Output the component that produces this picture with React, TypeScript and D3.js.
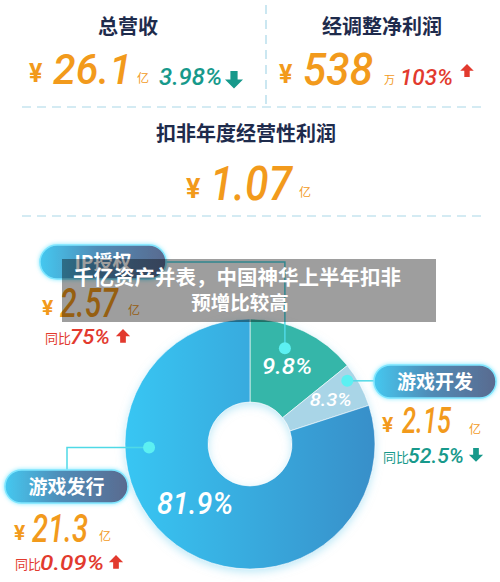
import React from "react";
import * as d3 from "d3";

// ---- data ----
const metricTitles = ["总营收", "经调整净利润", "扣非年度经营性利润"];
const metricValues = ["26.1", "538", "1.07"];
const metricUnits = ["亿", "万", "亿"];
const metricChanges = ["3.98%", "103%", ""];
const metricDirections = ["down", "up", ""];

const segmentNames = ["IP授权", "游戏开发", "游戏发行"];
const segmentRevenue = ["2.57", "2.15", "21.3"];
const segmentUnits = ["亿", "亿", "亿"];
const segmentYoY = ["75%", "52.5%", "0.09%"];
const segmentDirections = ["up", "down", "up"];

const sliceLabels = ["9.8%", "8.3%", "81.9%"];
const sliceShares = [14.2, 5.8, 80.0];

const headlineLines = ["千亿资产并表，中国神华上半年扣非", "预增比较高"];

// ---- style ----
const NAVY = "#1e2b4c";
const ORANGE = "#f29a1c";
const RED = "#e23a2e";
const TEAL = "#17998b";
const NUM_FONT = "Roboto, 'Open Sans', sans-serif";
const CJK = "'Noto Sans CJK SC', sans-serif";
const sliceColors = ["#35b6a9", "#a9d5e7", "url(#bigGrad)"];

function Num({ x, y, size, width, color, children, anchor }: any) {
  return (
    <text
      x={x}
      y={y}
      fontFamily={NUM_FONT}
      fontStyle="italic"
      fontWeight={500}
      fontSize={size}
      fill={color}
      textLength={width}
      lengthAdjust="spacingAndGlyphs"
      textAnchor={anchor || "start"}
    >
      {children}
    </text>
  );
}

function Arrow({ cx, y, dir, color, s = 1 }: { cx: number; y: number; dir: string; color: string; s?: number }) {
  const w = 7.5 * s, h = 7.5 * s, sw = 3 * s, sh = 7 * s;
  const d =
    dir === "up"
      ? `M${cx - w},${y + h} L${cx},${y} L${cx + w},${y + h} L${cx + sw},${y + h} L${cx + sw},${y + h + sh} L${cx - sw},${y + h + sh} L${cx - sw},${y + h} Z`
      : `M${cx - sw},${y} L${cx + sw},${y} L${cx + sw},${y + sh} L${cx + w},${y + sh} L${cx},${y + sh + h} L${cx - w},${y + sh} L${cx - sw},${y + sh} Z`;
  return <path d={d} fill={color} />;
}

function Pill({ x, y, w, h, text }: { x: number; y: number; w: number; h: number; text: string }) {
  return (
    <g>
      <rect x={x} y={y} width={w} height={h} rx={h / 2} fill="url(#pillGrad)" stroke="#7fe6ff" strokeWidth={1.5} filter="url(#glow)" />
      <text x={x + w / 2} y={y + h / 2 + 7} textAnchor="middle" fontFamily={CJK} fontWeight={700} fontSize={19} fill="#ffffff">
        {text}
      </text>
    </g>
  );
}

export default function App() {
  const cx = 250, cy = 444, rOuter = 125, rInner = 42;
  const pie = d3.pie<number>().sort(null).value((d) => d)(sliceShares);
  const arc = d3.arc<d3.PieArcDatum<number>>().innerRadius(rInner).outerRadius(rOuter);
  const labelR = [86, 94, 80];
  const labelSize = [22, 18, 31];
  const labelWidth = [50, 42, 76];
  const labelNudge = [[0, 0], [-2, 0], [-8, -6]];
  const polar = (deg: number, r: number) => [cx + r * Math.sin((deg * Math.PI) / 180), cy - r * Math.cos((deg * Math.PI) / 180)];

  const dot0 = polar(20, 102);
  const dot1 = polar(57, 116);
  const dot2 = polar(268, 101);

  const segLayout = [
    { pill: [40, 245, 126, 34], yen: [42, 315], val: [60, 317, 40, 58], unit: [128, 315], yoy: [45, 343], yoyW: 40, arrowX: 123 },
    { pill: [374, 365, 122, 33], yen: [382, 432], val: [402, 433, 37, 49], unit: [469, 434], yoy: [383, 462], yoyW: 56, arrowX: 476 },
    { pill: [5, 470, 123, 33], yen: [14, 540], val: [32, 542, 38, 56], unit: [99, 541], yoy: [15, 569], yoyW: 64, arrowX: 116 },
  ];

  return (
    <div style={{ position: "fixed", left: 0, top: 0 }}>
      <svg width={500} height={582} style={{ display: "block", background: "#ffffff" }}>
        <defs>
          <linearGradient id="bigGrad" x1="0" x2="1" y1="0" y2="0" gradientUnits="objectBoundingBox">
            <stop offset="0" stopColor="#38c6f3" />
            <stop offset="1" stopColor="#388fc9" />
          </linearGradient>
          <linearGradient id="pillGrad" x1="0" x2="1" y1="0" y2="0">
            <stop offset="0" stopColor="#44c8f0" />
            <stop offset="0.45" stopColor="#4f8db8" />
            <stop offset="1" stopColor="#5a6a8f" />
          </linearGradient>
          <filter id="glow" x="-20%" y="-40%" width="140%" height="180%">
            <feDropShadow dx="0" dy="0" stdDeviation="2" floodColor="#5fe3ff" floodOpacity="0.8" />
          </filter>
          <filter id="pieShadow" x="-20%" y="-20%" width="140%" height="140%">
            <feDropShadow dx="0" dy="3" stdDeviation="4" floodColor="#7fd3f0" floodOpacity="0.5" />
          </filter>
        </defs>

        {/* dashed dividers */}
        <line x1={22} x2={482} y1={107} y2={107} stroke="#a9d7e8" strokeWidth={1.2} strokeDasharray="9 6" />
        <line x1={266} x2={266} y1={5} y2={107} stroke="#a9d7e8" strokeWidth={1.2} strokeDasharray="9 6" />
        <line x1={22} x2={482} y1={216} y2={216} stroke="#a9d7e8" strokeWidth={1.2} strokeDasharray="9 6" />

        {/* top metrics */}
        <text x={128} y={34} textAnchor="middle" fontFamily={CJK} fontWeight={700} fontSize={20} fill={NAVY}>{metricTitles[0]}</text>
        <text x={29} y={82} fontFamily={NUM_FONT} fontSize={25} fontWeight={700} fill={ORANGE}>¥</text>
        <Num x={53} y={84} size={43} width={79} color={ORANGE}>{metricValues[0]}</Num>
        <text x={137} y={83} fontFamily={CJK} fontSize={12} fill={ORANGE}>{metricUnits[0]}</text>
        <Num x={159} y={85} size={23} width={63} color={TEAL}>{metricChanges[0]}</Num>
        <Arrow cx={234} y={71} dir={metricDirections[0]} color={TEAL} s={1.2} />

        <text x={382} y={34} textAnchor="middle" fontFamily={CJK} fontWeight={700} fontSize={20} fill={NAVY}>{metricTitles[1]}</text>
        <text x={279} y={83} fontFamily={NUM_FONT} fontSize={25} fontWeight={700} fill={ORANGE}>¥</text>
        <Num x={303} y={85} size={44} width={70} color={ORANGE}>{metricValues[1]}</Num>
        <text x={384} y={84} fontFamily={CJK} fontSize={11} fill={ORANGE}>{metricUnits[1]}</text>
        <Num x={400} y={85} size={22} width={53} color={RED}>{metricChanges[1]}</Num>
        <Arrow cx={467} y={64} dir={metricDirections[1]} color={RED} s={0.9} />

        <text x={246} y={141} textAnchor="middle" fontFamily={CJK} fontWeight={700} fontSize={20} fill={NAVY}>{metricTitles[2]}</text>
        <text x={186} y={198} fontFamily={NUM_FONT} fontSize={27} fontWeight={700} fill={ORANGE}>¥</text>
        <Num x={210} y={200} size={48} width={82} color={ORANGE}>{metricValues[2]}</Num>
        <text x={299} y={197} fontFamily={CJK} fontSize={12} fill={ORANGE}>{metricUnits[2]}</text>

        {/* donut */}
        <g transform={`translate(${cx},${cy})`} filter="url(#pieShadow)">
          {pie.map((p, i) => (
            <path key={i} d={arc(p) || ""} fill={sliceColors[i]} stroke="#ffffff" strokeWidth={0.6} />
          ))}
        </g>
        {pie.map((p, i) => {
          const mid = (p.startAngle + p.endAngle) / 2;
          const x = cx + labelR[i] * Math.sin(mid) + labelNudge[i][0];
          const y = cy - labelR[i] * Math.cos(mid) + labelNudge[i][1];
          return (
            <Num key={i} x={x} y={y + labelSize[i] * 0.36} size={labelSize[i]} width={labelWidth[i]} color="#ffffff" anchor="middle">
              {sliceLabels[i]}
            </Num>
          );
        })}

        {/* connectors */}
        <polyline points={`${dot0[0]},${dot0[1]} ${dot0[0]},262 166,262`} fill="none" stroke="#4fd9e6" strokeWidth={1.5} />
        <polyline points={`${dot1[0]},${dot1[1]} 376,${dot1[1]}`} fill="none" stroke="#4fd9e6" strokeWidth={1.5} />
        <polyline points={`${dot2[0]},${dot2[1]} 67,${dot2[1]} 67,471`} fill="none" stroke="#4fd9e6" strokeWidth={1.5} />
        {[dot0, dot1, dot2].map((d, i) => (
          <circle key={i} cx={d[0]} cy={d[1]} r={6} fill="#5cf0f2" />
        ))}

        {/* segments */}
        {segLayout.map((L, i) => {
          const col = segmentDirections[i] === "up" ? RED : TEAL;
          return (
            <g key={i}>
              <Pill x={L.pill[0]} y={L.pill[1]} w={L.pill[2]} h={L.pill[3]} text={segmentNames[i]} />
              <text x={L.yen[0]} y={L.yen[1]} fontFamily={NUM_FONT} fontWeight={700} fontSize={21} fill={ORANGE}>¥</text>
              <Num x={L.val[0]} y={L.val[1]} size={L.val[2]} width={L.val[3]} color={ORANGE}>{segmentRevenue[i]}</Num>
              <text x={L.unit[0]} y={L.unit[1]} fontFamily={CJK} fontSize={12} fill={ORANGE}>{segmentUnits[i]}</text>
              <text x={L.yoy[0]} y={L.yoy[1]} fontFamily={CJK} fontSize={13} fill={col}>同比</text>
              <Num x={L.yoy[0] + 25} y={L.yoy[1] + 1} size={21} width={L.yoyW} color={col}>{segmentYoY[i]}</Num>
              <Arrow cx={L.arrowX} y={L.yoy[1] - 14} dir={segmentDirections[i]} color={col} s={0.95} />
            </g>
          );
        })}

        {/* headline overlay */}
        <rect x={62} y={259} width={374} height={63} fill="#000000" fillOpacity={0.38} />
        <text x={73} y={285} fontFamily={CJK} fontWeight={700} fontSize={20.5} fill="#ffffff">{headlineLines[0]}</text>
        <text x={240} y={310} textAnchor="middle" fontFamily={CJK} fontWeight={700} fontSize={19.5} fill="#ffffff">{headlineLines[1]}</text>
      </svg>
    </div>
  );
}
